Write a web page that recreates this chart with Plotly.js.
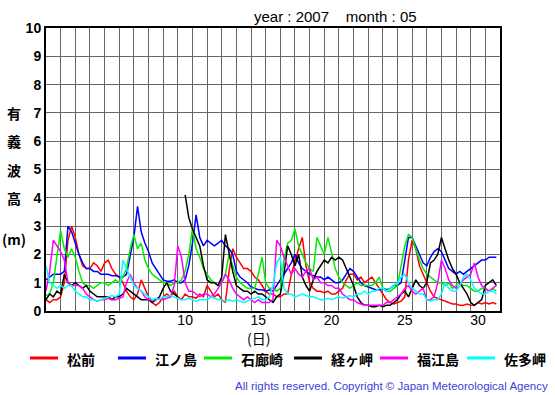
<!DOCTYPE html>
<html>
<head>
<meta charset="utf-8">
<script src="https://cdn.plot.ly/plotly-3.0.1.min.js"></script>
<style>
html,body{margin:0;padding:0;background:#fff;}
#chart{width:555px;height:395px;}
</style>
</head>
<body>
<div id="chart"></div>
<script>
// Significant wave height (m), May 2007, sampled every 6 hours (00,06,12,18) for days 1..31
const samplesPerDay = 4;
const stationNames = ['松前', '江ノ島', '石廊崎', '経ヶ岬', '福江島', '佐多岬'];
const stationColors = ['#ff0000', '#0000ff', '#00ee00', '#000000', '#ff00ff', '#00ffff'];

const matsumae = [
 0.4,0.3,0.4,0.4, 0.5,1.0,2.5,3.0, 2.6,2.0,1.6,1.5, 1.5,1.7,1.6,1.4, 1.7,1.8,1.5,1.3,
 1.2,1.0,0.7,0.5, 0.4,0.6,1.1,0.8, 0.5,0.3,0.2,0.3, 0.5,0.6,0.5,0.7, 0.5,0.4,0.6,0.5,
 0.5,0.45,0.6,0.5, 0.9,0.7,0.5,0.6, 0.4,0.3,1.4,2.2, 1.9,1.7,1.5,1.5, 1.4,1.2,1.1,0.9,
 0.7,0.6,0.6,0.5, 0.5,0.6,0.6,1.3, 1.8,2.2,2.6,1.6, 1.0,0.8,0.7,0.7, 0.65,0.7,0.6,0.6,
 0.7,0.8,1.1,1.3, 1.3,1.1,1.2,1.0, 1.1,1.2,1.0,0.8, 0.6,0.4,0.3,0.25, 0.3,0.35,0.5,1.8,
 2.5,2.2,1.6,1.3, 1.0,0.7,0.5,0.45, 0.4,0.35,0.3,0.25, 0.25,0.2,0.2,0.25, 0.2,0.2,0.3,0.25,
 0.3,0.25,0.3,0.25
];
const enoshima = [
 1.1,1.2,1.3,1.3, 1.3,1.4,3.0,2.8, 2.4,2.0,1.7,1.5, 1.5,1.4,1.4,1.3, 1.3,1.3,1.25,1.25,
 1.2,1.2,1.3,1.9, 2.6,3.7,2.8,2.4, 2.1,1.7,1.5,1.3, 1.1,1.05,1.05,1.1, 1.0,1.0,1.1,1.6,
 2.4,3.4,2.6,2.3, 2.5,2.4,2.3,2.4, 2.5,2.3,2.2,2.0, 1.4,1.2,1.1,1.0, 0.85,0.8,0.75,0.75,
 0.7,0.75,0.7,0.9, 1.1,1.3,1.5,1.7, 2.0,1.7,1.5,1.4, 1.3,1.25,1.2,1.2, 1.1,1.2,1.1,1.0,
 1.0,1.1,1.3,1.5, 1.4,1.2,1.0,0.9, 0.85,0.8,0.75,0.75, 0.8,0.75,0.8,0.9, 0.9,1.0,1.8,2.6,
 2.6,2.3,2.0,1.7, 1.6,1.9,2.1,2.2, 2.1,1.8,1.5,1.4, 1.3,1.4,1.3,1.4, 1.5,1.6,1.7,1.8,
 1.8,1.9,1.9,1.9
];
const irozaki = [
 0.55,0.6,1.0,2.0, 2.85,2.2,1.9,2.2, 1.9,1.4,1.0,0.9, 0.9,0.8,0.9,1.0, 1.0,0.9,1.0,1.1,
 1.0,1.2,1.5,2.2, 2.7,2.2,2.4,1.8, 1.5,1.3,1.2,1.1, 1.0,1.0,0.9,1.0, 1.0,1.1,1.4,2.0,
 2.9,2.2,1.9,1.5, 1.3,1.1,1.0,0.9, 1.0,1.3,2.0,1.6, 1.2,1.0,0.9,0.8, 0.8,0.8,1.3,1.9,
 1.0,0.8,0.8,0.7, 0.8,1.8,2.4,2.5, 2.9,2.3,2.0,1.7, 1.5,1.4,2.6,2.3, 2.0,2.6,2.0,1.5,
 1.2,1.0,0.9,0.8, 0.9,1.0,0.9,0.9, 0.9,0.9,1.0,1.2, 0.8,0.7,0.7,0.8, 0.9,1.6,2.3,2.7,
 2.6,2.2,1.8,1.5, 1.3,1.2,1.1,1.0, 1.0,0.9,1.0,0.8, 0.9,1.0,0.9,0.9, 0.8,0.7,0.7,0.8,
 0.8,0.7,0.8,0.7
];
const kyogamisaki = [
 0.4,0.6,0.5,0.7, 0.6,1.3,1.0,0.9, 1.0,0.9,0.8,0.9, 0.7,0.6,0.5,0.5, 0.5,0.5,0.4,0.5,
 0.5,0.6,0.8,0.7, 0.6,0.5,0.4,0.4, 0.4,0.3,0.4,0.5, 0.8,1.0,0.7,0.6, 0.5,null,4.1,3.3,
 2.9,2.6,2.3,1.6, 1.1,1.0,1.0,0.9, 1.2,2.7,2.0,1.4, 0.9,0.8,0.7,0.7, 0.6,0.7,0.6,0.6,
 0.5,0.4,0.3,0.5, 0.6,1.3,2.3,2.0, 1.6,2.0,1.2,0.9, 0.7,1.1,1.4,1.6, 1.8,1.7,1.9,1.8,
 1.9,1.8,1.5,1.2, 0.9,0.5,0.3,0.2, 0.2,0.15,0.15,0.2, 0.15,0.2,0.2,0.3, 0.4,0.6,0.7,0.5,
 0.8,1.1,0.9,0.8, 1.0,1.7,1.8,2.0, 2.6,2.2,1.8,1.5, 1.3,1.0,0.8,0.6, 0.3,0.2,0.3,0.4,
 0.9,1.0,1.1,0.9
];
const fukuejima = [
 0.7,1.4,2.5,2.3, 2.1,1.8,1.0,0.9, 0.9,0.9,0.8,0.6, 0.5,0.4,0.35,0.4, 0.4,0.45,0.4,0.4,
 0.45,0.5,1.0,1.3, 1.0,0.8,0.7,0.5, 0.4,0.4,0.4,0.45, 0.4,0.45,0.5,0.9, 2.3,1.9,1.0,0.7,
 0.7,0.6,0.5,0.6, 0.6,0.5,0.6,0.8, 1.0,1.3,1.1,0.8, 0.6,0.5,0.4,0.5, 0.4,0.3,0.4,0.3,
 0.3,0.3,0.4,2.5, 2.3,1.9,1.6,1.3, 1.5,1.3,1.2,1.4, 1.5,1.1,1.2,1.0, 1.0,0.9,0.9,0.8,
 0.8,0.6,0.5,0.4, 0.4,0.3,0.25,0.2, 0.2,0.2,0.2,0.2, 0.2,0.3,0.3,0.4, 0.5,0.6,0.8,0.9,
 0.7,0.6,0.7,0.8, 0.4,0.4,0.5,1.0, 1.8,1.5,1.1,0.9, 0.8,0.9,1.1,1.2, 1.3,1.7,1.2,0.9,
 0.8,0.7,0.8,0.9
];
const satamisaki = [
 1.6,1.0,0.9,0.8, 0.9,0.8,0.9,0.9, 0.7,0.6,0.5,0.5, 0.4,0.4,0.35,0.4, 0.45,0.5,0.55,0.5,
 0.6,1.8,1.5,1.2, 0.9,0.8,0.7,0.6, 0.5,0.4,0.45,0.4, 0.5,0.5,0.55,0.5, 0.45,0.4,0.4,0.45,
 0.4,0.35,0.4,0.4, 0.4,0.5,0.45,0.4, 0.4,0.35,0.4,0.35, 0.4,0.35,0.3,0.35, 0.4,0.45,0.5,0.4,
 0.4,0.5,0.9,1.7, 1.9,0.8,0.6,0.6, 0.5,0.55,0.6,0.55, 0.5,0.5,0.45,0.4, 0.4,0.45,0.4,0.45,
 0.5,0.45,0.5,0.55, 0.5,0.6,0.6,0.7, 0.6,0.7,0.7,0.8, 0.8,0.7,0.8,0.9, 1.0,1.2,1.3,1.0,
 0.8,0.7,0.6,0.6, 0.4,0.35,0.4,0.4, 0.6,1.0,0.8,0.7, 0.7,0.9,1.2,1.3, 1.1,0.8,0.7,0.6,
 0.6,0.7,0.7,0.6
];
const seriesList = [matsumae, enoshima, irozaki, kyogamisaki, fukuejima, satamisaki];

const dayTickLabels = ['5', '10', '15', '20', '25', '30'];
const dayTickDays = [5, 10, 15, 20, 25, 30];

// time axis: day d at 00h = d ; labels centred on noon of the day
const traces = seriesList.map((vals, k) => ({
  type: 'scatter',
  mode: 'lines',
  name: stationNames[k],
  x: vals.map((_, i) => 1 + i / samplesPerDay),
  y: vals,
  connectgaps: false,
  line: {color: stationColors[k], width: 1.5},
  hoverinfo: 'skip',
  showlegend: false
}));

const cjk = '"Noto Sans CJK JP", "Noto Sans", sans-serif';
const latin = '"Liberation Sans", Arial, sans-serif';

// plot-area geometry in pixels (for legend placement in paper coords)
const plotLeft = 46, plotWidth = 454, plotBottom = 311, plotHeight = 283;
const px2x = p => (p - plotLeft) / plotWidth;
const py2y = p => (plotBottom - p) / plotHeight;

const yTitleChars = [
  {t: '有', y: 7}, {t: '義', y: 6}, {t: '波', y: 5}, {t: '高', y: 4}, {t: '(m)', y: 2.55}
];

const annotations = yTitleChars.map(c => ({
  text: c.t, xref: 'paper', yref: 'y', x: px2x(14), y: c.y,
  xanchor: 'center', yanchor: 'middle', showarrow: false,
  font: {family: cjk, size: 14, color: '#000', weight: 'bold'}
}));
annotations.push({
  text: 'year : 2007\u00a0\u00a0\u00a0\u00a0month : 05', xref: 'paper', yref: 'paper',
  x: px2x(335), y: py2y(17), xanchor: 'center', yanchor: 'middle', showarrow: false,
  font: {family: latin, size: 15, color: '#000'}
});
annotations.push({
  text: '(日)', xref: 'paper', yref: 'paper', x: px2x(258), y: py2y(338.3),
  xanchor: 'center', yanchor: 'middle', showarrow: false, borderpad: 0,
  font: {family: cjk, size: 14, color: '#000'}
});
annotations.push({
  text: 'All rights reserved. Copyright © Japan Meteorological Agency', xref: 'paper', yref: 'paper',
  x: px2x(550), y: py2y(386), xanchor: 'right', yanchor: 'middle', showarrow: false,
  font: {family: latin, size: 11.5, color: '#4040d8'}
});

// custom legend row
const legendLineStart = [30, 118, 204, 294, 380, 467];
const legendLineLen = 28, legendTextGap = 8, legendY = 358.8;
const shapes = [];
stationNames.forEach((nm, k) => {
  const x0 = legendLineStart[k];
  shapes.push({
    type: 'line', xref: 'paper', yref: 'paper',
    x0: px2x(x0), x1: px2x(x0 + legendLineLen), y0: py2y(legendY - 0.8), y1: py2y(legendY - 0.8),
    line: {color: stationColors[k], width: 3}
  });
  annotations.push({
    text: nm, xref: 'paper', yref: 'paper',
    x: px2x(x0 + legendLineLen + legendTextGap), y: py2y(legendY),
    xanchor: 'left', yanchor: 'middle', showarrow: false, borderpad: 0,
    font: {family: cjk, size: 14, color: '#000', weight: 'bold'}
  });
});

const layout = {
  width: 555, height: 395,
  margin: {l: 46, r: 55, t: 28, b: 84},
  paper_bgcolor: '#fff', plot_bgcolor: '#fff',
  showlegend: false,
  xaxis: {
    range: [1, 32], tickmode: 'array',
    tickvals: dayTickDays.map(d => d + 0.5), ticktext: dayTickLabels,
    showgrid: false, zeroline: false, showline: true, mirror: true,
    linecolor: '#000', linewidth: 2, ticks: '', ticklabelstandoff: -5,
    tickfont: {family: latin, size: 14, color: '#000'},
    minor: {tickmode: 'linear', tick0: 1, dtick: 1, showgrid: true, gridcolor: '#666', gridwidth: 1, ticks: ''},
    fixedrange: true
  },
  yaxis: {
    range: [0, 10], tickmode: 'linear', tick0: 0, dtick: 1,
    showgrid: true, gridcolor: '#666', gridwidth: 1, zeroline: false,
    showline: true, mirror: true, linecolor: '#000', linewidth: 2, ticks: '',
    tickfont: {family: latin, size: 14, color: '#000', weight: 'bold'},
    fixedrange: true
  },
  shapes: shapes,
  annotations: annotations
};

Plotly.newPlot('chart', traces, layout, {displayModeBar: false, staticPlot: true});
</script>
</body>
</html>
